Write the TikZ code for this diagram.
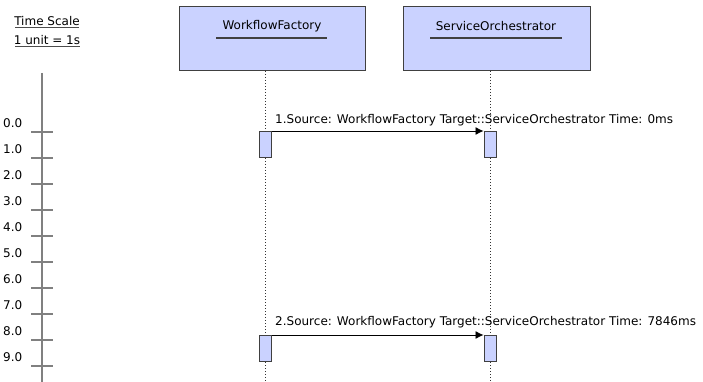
\documentclass[tikz,border=0pt]{standalone}
\usepackage{fontspec}
\setmainfont{DejaVu Sans}
\usepackage{tikz}
\usetikzlibrary{arrows.meta}
\definecolor{boxblue}{RGB}{202,210,255}

\begin{document}
\begin{tikzpicture}[x=1pt, y=-1pt, font=\fontsize{12}{14}\selectfont,
  objbox/.style={draw=black!75, fill=boxblue, line width=1pt, minimum width=186pt, minimum height=64pt, inner sep=0pt},
  actbox/.style={draw=black!75, fill=boxblue, line width=1pt, minimum width=12pt, minimum height=26pt, inner sep=0pt, anchor=north},
  lifeline/.style={black!80, line width=1pt, dash pattern=on 1.2pt off 1.8pt},
  msg/.style={-{Latex[length=8pt, width=8pt]}, line width=0.8pt},
  axisline/.style={black!50, line width=1.2pt}]
\useasboundingbox (0,0) rectangle (703,382);
% time scale
\node (tsname) at (47,21) {Time Scale};
\node (tsunit) at (47,40) {1 unit = 1s};
\draw[black!70, line width=1pt] (15,27.5) -- (79,27.5);
\draw[black!70, line width=1pt] (15,47) -- (80,47);
\draw[axisline] (42,73) -- (42,382);
\foreach \t in {0,...,9} {
  \draw[axisline] (31,132+26*\t) -- (53,132+26*\t);
  \node[anchor=west, inner sep=0pt] (tick\t) at (3,123+26*\t) {\t.0};
}
% objects
\node[objbox] (wf) at (272.5,39) {};
\node[objbox, minimum width=187pt] (so) at (496.5,39) {};
\node (wftitle) at (272,26) {WorkflowFactory};
\node (sotitle) at (496,26) {ServiceOrchestrator};
\draw[black!75, line width=1.2pt] (216,38) -- (327,38);
\draw[black!75, line width=1.2pt] (430,38) -- (562,38);
% lifelines
\coordinate (wftop) at (265,71);
\coordinate (wfend) at (265,382);
\coordinate (sotop) at (490,71);
\coordinate (soend) at (490,382);
\draw[lifeline] (wftop) -- (wfend);
\draw[lifeline] (sotop) -- (soend);
% messages
\node[actbox] (wfact1) at (265,131) {};
\node[actbox] (soact1) at (490,131) {};
\node[actbox] (wfact2) at (265,335) {};
\node[actbox] (soact2) at (490,335) {};
\draw[msg] (wfact1.north east) -- (soact1.north west);
\draw[msg] (wfact2.north east) -- (soact2.north west);
\node[anchor=west, inner sep=0pt] (msg1) at (275,120) {1.Source: WorkflowFactory Target::ServiceOrchestrator Time: 0ms};
\node[anchor=west, inner sep=0pt] (msg2) at (275,322) {2.Source: WorkflowFactory Target::ServiceOrchestrator Time: 7846ms};
\end{tikzpicture}
\end{document}
